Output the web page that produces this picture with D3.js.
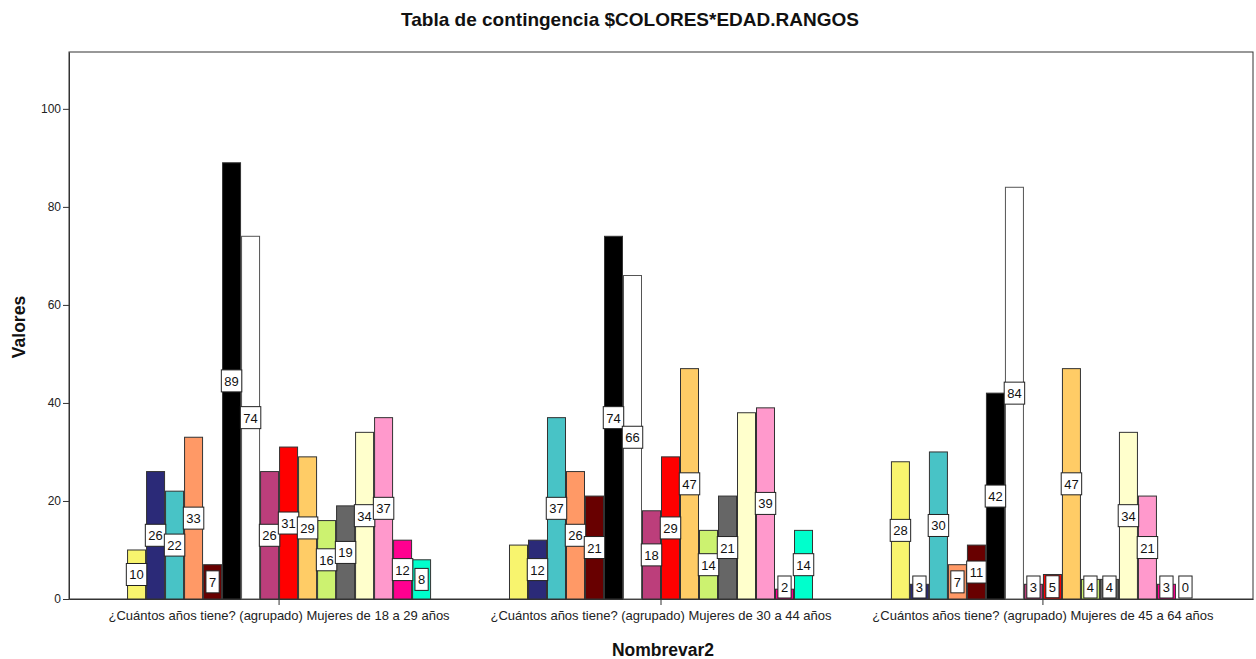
<!DOCTYPE html>
<html>
<head>
<meta charset="utf-8">
<script src="https://cdn.jsdelivr.net/npm/d3@7"></script>
<style>
  html, body { margin: 0; padding: 0; background: #ffffff; }
  svg { display: block; font-family: "Liberation Sans", Arial, sans-serif; }
</style>
</head>
<body>
<svg id="chart" width="1256" height="659"></svg>
<script>
// ---- data ----
const categories = [
  "¿Cuántos años tiene? (agrupado) Mujeres de 18 a 29 años",
  "¿Cuántos años tiene? (agrupado) Mujeres de 30 a 44 años",
  "¿Cuántos años tiene? (agrupado) Mujeres de 45 a 64 años"
];
const seriesNames = ["Amarillo", "Azul marino", "Turquesa", "Salmón", "Granate", "Negro", "Blanco",
  "Magenta", "Rojo", "Naranja claro", "Verde claro", "Gris", "Crema", "Rosa", "Fucsia", "Aguamarina"];
const seriesColors = ["#F8F46E", "#2B2A78", "#48C3C6", "#FF9966", "#680000", "#000000", "#FFFFFF",
  "#BC3E7B", "#FF0000", "#FFCC66", "#CCF270", "#666666", "#FFFFCC", "#FF99CC", "#FF0090", "#00FFCC"];
// values per category, in series order
const values18_29 = [10, 26, 22, 33, 7, 89, 74, 26, 31, 29, 16, 19, 34, 37, 12, 8];
const values30_44 = [11, 12, 37, 26, 21, 74, 66, 18, 29, 47, 14, 21, 38, 39, 2, 14];
const values45_64 = [28, 3, 30, 7, 11, 42, 84, 3, 5, 47, 4, 4, 34, 21, 3, 0];
// which values carry a data label (SPSS omitted a few)
const labels18_29 = [true, true, true, true, true, true, true, true, true, true, true, true, true, true, true, true];
const labels30_44 = [false, true, true, true, true, true, true, true, true, true, true, true, false, true, true, true];
const labels45_64 = [true, true, true, true, true, true, true, true, true, true, true, true, true, true, true, true];
const yTicks = [0, 20, 40, 60, 80, 100];
const title = "Tabla de contingencia $COLORES*EDAD.RANGOS";
const yTitle = "Valores";
const xTitle = "Nombrevar2";

const valuesByCat = [values18_29, values30_44, values45_64];
const labelsByCat = [labels18_29, labels30_44, labels45_64];

// ---- layout ----
const svg = d3.select("#chart");
const L = 69, R = 1253, T = 52, B = 599;

const x0 = d3.scaleBand().domain(categories).range([L, R]).paddingInner(0.204).paddingOuter(0.152);
const x1 = d3.scaleBand().domain(seriesNames).range([0, x0.bandwidth()]).padding(0);
const y = d3.scaleLinear().domain([0, 111.6]).range([B, T]);

// frame
svg.append("rect").attr("x", L).attr("y", T).attr("width", R - L).attr("height", B - T)
  .attr("fill", "none").attr("stroke", "#333").attr("stroke-width", 1);

// y axis
const yAxis = svg.append("g").attr("transform", `translate(${L},0)`)
  .call(d3.axisLeft(y).tickValues(yTicks).tickSize(6).tickSizeOuter(0).tickPadding(2).tickFormat(d3.format("d")));
yAxis.select(".domain").attr("stroke", "#333");
yAxis.selectAll(".tick line").attr("stroke", "#333");
yAxis.selectAll(".tick text").attr("font-size", 12).attr("fill", "#222")
  .attr("font-family", "Liberation Sans, Arial, sans-serif");

// x axis
const xAxis = svg.append("g").attr("transform", `translate(0,${B})`)
  .call(d3.axisBottom(x0).tickSize(6).tickSizeOuter(0).tickPadding(6));
xAxis.select(".domain").attr("stroke", "#333");
xAxis.selectAll(".tick line").attr("stroke", "#333");
xAxis.selectAll(".tick text").attr("font-size", 13).attr("fill", "#222")
  .attr("font-family", "Liberation Sans, Arial, sans-serif");

// bars
const groups = svg.append("g").selectAll("g").data(categories).join("g")
  .attr("transform", d => `translate(${x0(d)},0)`);

groups.each(function(cat, ci) {
  const g = d3.select(this);
  const vals = valuesByCat[ci];
  const rows = seriesNames.map((s, i) => ({ s, i, v: vals[i], show: labelsByCat[ci][i] }));
  g.selectAll("rect.bar").data(rows.filter(r => r.v > 0)).join("rect")
    .attr("class", "bar")
    .attr("x", d => x1(d.s) + 0.5)
    .attr("y", d => y(d.v))
    .attr("width", x1.bandwidth() - 1)
    .attr("height", d => y(0) - y(d.v))
    .attr("fill", d => seriesColors[d.i])
    .attr("stroke", d => d.i === 6 ? "#555" : "#333")
    .attr("stroke-width", 1);

  // labels
  const lab = g.selectAll("g.lab").data(rows.filter(r => r.show)).join("g").attr("class", "lab");
  lab.each(function(d) {
    const lg = d3.select(this);
    const t = lg.append("text").text(d.v).attr("font-size", 13).attr("fill", "#111")
      .attr("text-anchor", "middle").attr("dominant-baseline", "central");
    const tw = t.node().getComputedTextLength();
    const bw = tw + 6, bh = 22;
    const cx = x1(d.s) + x1.bandwidth() / 2;
    let cy = (y(0) + y(d.v)) / 2;
    if (cy + bh / 2 > y(0) - 1) cy = y(0) - 1 - bh / 2;
    lg.insert("rect", "text").attr("x", cx - bw / 2).attr("y", cy - bh / 2)
      .attr("width", bw).attr("height", bh).attr("fill", "#fff").attr("stroke", "#222").attr("stroke-width", 1);
    t.attr("x", cx).attr("y", cy + 0.5);
  });
});

// titles
svg.append("text").attr("x", 630).attr("y", 26).attr("text-anchor", "middle")
  .attr("font-size", 19).attr("font-weight", "bold").attr("fill", "#111").text(title);
svg.append("text").attr("transform", "translate(25,327) rotate(-90)").attr("text-anchor", "middle")
  .attr("font-size", 17.5).attr("font-weight", "bold").attr("fill", "#111").text(yTitle);
svg.append("text").attr("x", 663).attr("y", 656).attr("text-anchor", "middle")
  .attr("font-size", 17.5).attr("font-weight", "bold").attr("fill", "#111").text(xTitle);
</script>
</body>
</html>
